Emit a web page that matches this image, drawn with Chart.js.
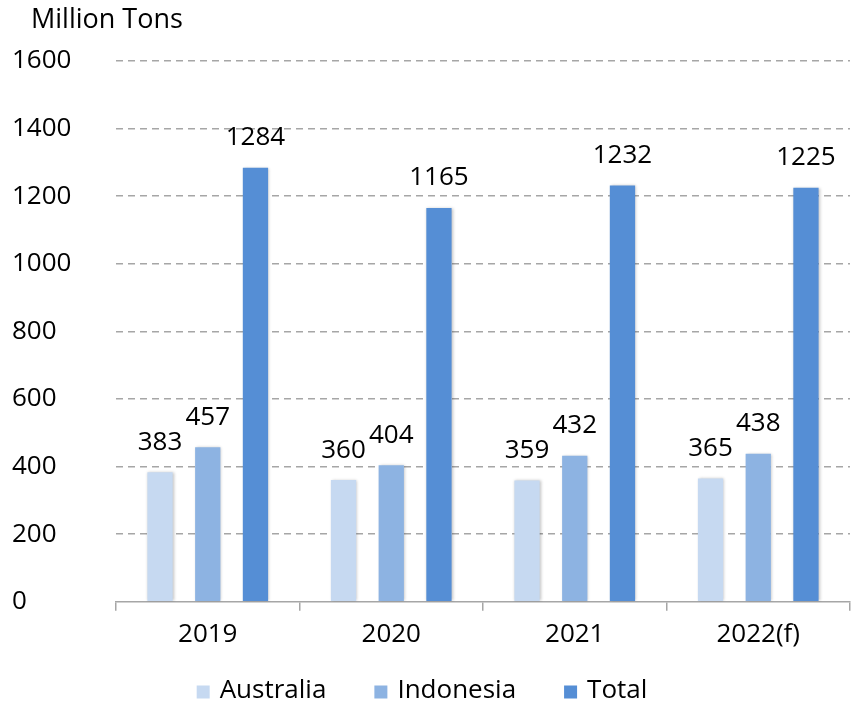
<!DOCTYPE html>
<html>
<head>
<meta charset="utf-8">
<script src="https://cdn.jsdelivr.net/npm/chart.js@4.4.0/dist/chart.umd.min.js"></script>
<style>
  html, body { margin: 0; padding: 0; background: #fff; }
  #wrap { width: 852px; height: 706px; position: relative; }
</style>
</head>
<body>
<div id="wrap"><canvas id="coalChart"></canvas></div>
<script>
var years = ['2019', '2020', '2021', '2022(f)'];
var australia = [383, 360, 359, 365];
var indonesia = [457, 404, 432, 438];
var total = [1284, 1165, 1232, 1225];
var yTicks = [0, 200, 400, 600, 800, 1000, 1200, 1400, 1600];

var fontFam = '"Open Sans", "Noto Sans", sans-serif';
var fontSize = 26;

// étiquettes de valeurs, titre de l'axe et légende
var labelPlugin = {
  id: 'labels',
  afterDatasetsDraw: function(chart) {
    var ctx = chart.ctx;
    ctx.save();
    ctx.fillStyle = '#000';
    ctx.font = fontSize + 'px ' + fontFam;
    ctx.textAlign = 'center';
    ctx.textBaseline = 'bottom';
    chart.data.datasets.forEach(function(ds, i) {
      chart.getDatasetMeta(i).data.forEach(function(bar, j) {
        ctx.fillText(ds.data[j], bar.x, bar.y - 17);
      });
    });
    ctx.textAlign = 'left';
    ctx.textBaseline = 'middle';
    ctx.font = '27px ' + fontFam;
    ctx.fillText('Million Tons', 31, 20);
    ctx.font = fontSize + 'px ' + fontFam;

    // légende en bas
    var box = 13, gapTxt = 10, gapItem = 48;
    var items = chart.data.datasets.map(function(ds) {
      return { text: ds.label, color: ds.backgroundColor, w: box + gapTxt + ctx.measureText(ds.label).width };
    });
    var totalW = items.reduce(function(s, it) { return s + it.w; }, 0) + gapItem * (items.length - 1);
    var x = (chart.width - totalW) / 2 - 4;
    var y = 691;
    items.forEach(function(it) {
      ctx.fillStyle = it.color;
      ctx.fillRect(x, y - box / 2 + 1, box, box);
      ctx.fillStyle = '#000';
      ctx.fillText(it.text, x + box + gapTxt, y);
      x += it.w + gapItem;
    });
    ctx.restore();
  }
};

// petite ombre sous les barres
var shadowPlugin = {
  id: 'shadow',
  beforeDatasetsDraw: function(chart) {
    var ctx = chart.ctx;
    ctx.save();
    ctx.shadowColor = 'rgba(0,0,0,0.25)';
    ctx.shadowBlur = 3;
    ctx.shadowOffsetX = 1;
    ctx.shadowOffsetY = 0;
  },
  afterDatasetsDraw: function(chart) {
    chart.ctx.restore();
  }
};

var ctx = document.getElementById('coalChart').getContext('2d');
var myChart = new Chart(ctx, {
  type: 'bar',
  data: {
    labels: years,
    datasets: [
      { label: 'Australia', data: australia, backgroundColor: '#c6d9f1' },
      { label: 'Indonesia', data: indonesia, backgroundColor: '#8db3e2' },
      { label: 'Total', data: total, backgroundColor: '#558ed5' }
    ]
  },
  options: {
    responsive: true,
    maintainAspectRatio: false,
    animation: false,
    categoryPercentage: 0.78,
    barPercentage: 0.53,
    layout: { padding: { top: 61, left: 12, right: 2, bottom: 48 } },
    plugins: {
      legend: { display: false },
      tooltip: { enabled: false }
    },
    scales: {
      x: {
        grid: {
          display: true,
          drawOnChartArea: false,
          color: '#a6a6a6',
          tickLength: 9,
          lineWidth: 1.5
        },
        border: { color: '#a6a6a6', width: 1.5 },
        ticks: { color: '#000', font: { size: fontSize, family: fontFam }, padding: 8 }
      },
      y: {
        min: 0,
        max: 1600,
        afterBuildTicks: function(axis) {
          axis.ticks = yTicks.map(function(v) { return { value: v }; });
        },
        afterFit: function(axis) { axis.width = 104; },
        grid: {
          color: function(c) { return c.tick.value === 0 ? 'transparent' : '#a6a6a6'; },
          lineWidth: 1.5,
          drawTicks: false
        },
        border: { display: false, dash: [7, 5] },
        ticks: {
          color: '#000',
          crossAlign: 'far',
          padding: 10,
          font: { size: fontSize, family: fontFam },
          callback: function(v) { return String(v); }
        }
      }
    }
  },
  plugins: [shadowPlugin, labelPlugin]
});
</script>
</body>
</html>
